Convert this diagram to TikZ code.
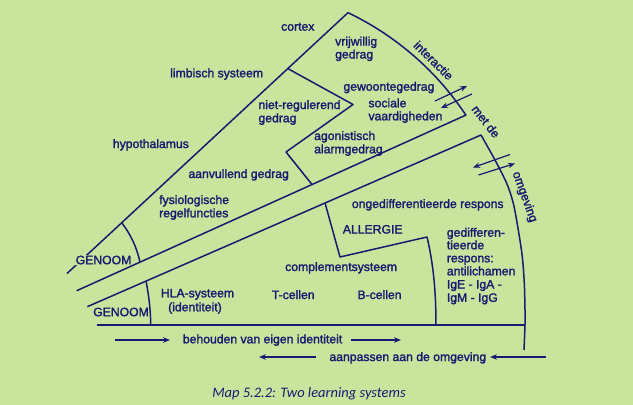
\documentclass[tikz,border=0pt]{standalone}
\usepackage{fontspec}
\setmainfont{Liberation Sans}
\newfontfamily\lblfont{Liberation Sans}[FakeBold=1.8]
\newfontfamily\capfont{Carlito}
\usetikzlibrary{arrows.meta}
\definecolor{bg}{RGB}{201,228,156}
\definecolor{ink}{RGB}{26,26,112}
\tikzset{
  ln/.style={draw=ink, line width=1.5pt, line join=round},
  arr/.style={draw=ink, line width=1.2pt, -{Stealth[length=7pt,width=5.5pt]}},
  txt/.style={text=ink, font=\lblfont\fontsize{12.2}{13}\selectfont, inner sep=0pt},
  lbl/.style={txt, anchor=base west},
  clbl/.style={txt, anchor=center},
  mask/.style={clbl, fill=bg, inner sep=1pt}
}
\begin{document}
\begin{tikzpicture}[x=1pt,y=-1pt]
\fill[bg] (0,0) rectangle (633,405);
\useasboundingbox (0,0) rectangle (633,405);

% key points
\coordinate (apex) at (348,12.7);
\coordinate (lend) at (67,273.5);
\coordinate (uA) at (76.7,290.7);
\coordinate (uB) at (466,115);
\coordinate (sA) at (87.3,306.7);
\coordinate (sB) at (481,135);
\coordinate (bA) at (96.7,325);
\coordinate (bB) at (525,325);

% upper wedge
\draw[ln] (lend) -- (apex) -- plot[domain=-64.4:-33.6, samples=50] ({221+294*cos(\x)},{277.8+294*sin(\x)}) -- (uA);
% inner dividers of upper wedge
\coordinate (dA) at (288,68.7);
\coordinate (dB) at (353,104.5);
\coordinate (dD) at (286,152);
\coordinate (dE) at (312,184.5);
\draw[ln] (dA) -- (dB) -- (dD) -- (dE);
% genoom arc upper
\coordinate (gu1) at (121.7,222.7);
\coordinate (gu2) at (140,262.2);
\draw[ln] (gu1) .. controls (130.8,234.5) and (136.9,247.6) .. (gu2);

% lower wedge
\draw[ln] (sA) -- (sB) -- plot[smooth] coordinates {(481,135) (495,160) (506.7,183.3) (513.3,203.3) (518.3,230) (522.3,256.7) (524.3,283.3) (525,310) (525,325) (524,350)};
\draw[ln] (bA) -- (bB);
% genoom arc lower
\coordinate (gl1) at (146,281);
\coordinate (gl2) at (150.7,325);
\draw[ln] (gl1) .. controls (148.8,295) and (150.6,310) .. (gl2);
% allergie divider
\coordinate (al1) at (325,202.8);
\coordinate (al2) at (340,257);
\coordinate (al3) at (427,237);
\coordinate (al4) at (436,325);
\draw[ln] (al1) -- (al2) -- (al3) .. controls (433,262) and (436,290) .. (al4);

% arrows across the arcs
\coordinate (a1s) at (435,101);  \coordinate (a1e) at (467,86);
\coordinate (a2s) at (472,94);   \coordinate (a2e) at (441,108);
\draw[arr] (a1s) -- (a1e);
\draw[arr] (a2s) -- (a2e);
\coordinate (a3s) at (510,154.5); \coordinate (a3e) at (473,167.5);
\coordinate (a4s) at (478.5,175); \coordinate (a4e) at (515,163.5);
\draw[arr] (a3s) -- (a3e);
\draw[arr] (a4s) -- (a4e);

% bottom arrows
\coordinate (b1s) at (115,340); \coordinate (b1e) at (170,340);
\coordinate (b2s) at (351,340); \coordinate (b2e) at (401,340);
\coordinate (b3s) at (316,357); \coordinate (b3e) at (259,357);
\coordinate (b4s) at (546,357); \coordinate (b4e) at (490,357);
\draw[arr] (b1s) -- (b1e);
\draw[arr] (b2s) -- (b2e);
\draw[arr] (b3s) -- (b3e);
\draw[arr] (b4s) -- (b4e);

% labels outside
\node[lbl] (cortex) at (281,30.7) {cortex};
\node[lbl] (limb) at (170,77.3) {limbisch systeem};
\node[lbl] (hypo) at (112.7,148) {hypothalamus};
\node[mask] (gen1) at (103.5,260) {GENOOM};
\node[clbl] (gen2) at (121,312) {GENOOM};

% upper wedge labels
\node[lbl] (vrij1) at (335,45.5) {vrijwillig};
\node[lbl] (vrij2) at (335,58.5) {gedrag};
\node[lbl] (niet1) at (258.3,109) {niet-regulerend};
\node[lbl] (niet2) at (258.3,122.3) {gedrag};
\node[lbl] (gewo) at (343.3,90.7) {gewoontegedrag};
\node[lbl] (soc1) at (368.3,107.3) {sociale};
\node[lbl] (soc2) at (368.3,120.3) {vaardigheden};
\node[lbl] (ago1) at (314,140) {agonistisch};
\node[lbl] (ago2) at (314,153.3) {alarmgedrag};
\node[lbl] (aanv) at (188.3,178) {aanvullend gedrag};
\node[lbl] (fys1) at (159,204) {fysiologische};
\node[lbl] (fys2) at (159,217.3) {regelfuncties};

% rotated labels
\node[clbl, rotate=-44.4] (inter) at (433.6,60.5) {interactie};
\node[clbl, rotate=-52] (metde) at (486,121.5) {met de};
\node[clbl, rotate=-70] (omg) at (524.5,197) {omgeving};

% lower wedge labels
\node[lbl] (onged) at (351.7,208) {ongedifferentieerde respons};
\node[clbl] (allg) at (372.7,229.3) {ALLERGIE};
\node[lbl] (ged1) at (446.7,236.7) {gedifferen-};
\node[lbl] (ged2) at (446.7,249.3) {tieerde};
\node[lbl] (ged3) at (446.7,262.3) {respons:};
\node[lbl] (ged4) at (446.7,275.3) {antilichamen};
\node[lbl] (ged5) at (446.7,288.5) {IgE - IgA -};
\node[lbl] (ged6) at (446.7,301.8) {IgM - IgG};
\node[lbl] (compl) at (285,271) {complementsysteem};
\node[lbl] (tcel) at (271.7,299) {T-cellen};
\node[lbl] (bcel) at (357.3,299) {B-cellen};
\node[lbl] (hla1) at (160.7,297.3) {HLA-systeem};
\node[lbl] (hla2) at (168,311.3) {(identiteit)};

% bottom labels
\node[lbl] (behoud) at (182.7,343.3) {behouden van eigen identiteit};
\node[lbl] (aanp) at (329.3,361) {aanpassen aan de omgeving};

% caption
\node[text=ink, font=\capfont\itshape\fontsize{14.5}{16}\selectfont, inner sep=0pt, anchor=base] (cap) at (309,397) {Map 5.2.2: Two learning systems};
\end{tikzpicture}
\end{document}
